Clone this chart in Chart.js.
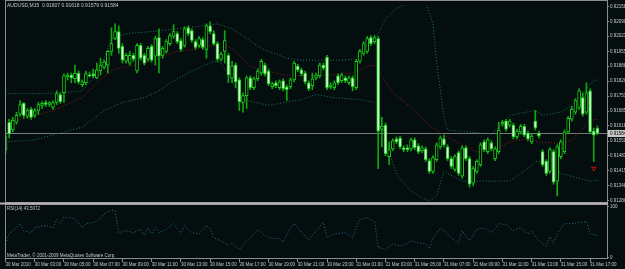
<!DOCTYPE html>
<html>
<head>
<meta charset="utf-8">
<script src="https://cdn.jsdelivr.net/npm/chart.js@4.4.0/dist/chart.umd.min.js"></script>
<style>
  html, body { margin: 0; padding: 0; background: #050e0e; }
  #wrap { width: 625px; height: 269px; }
</style>
</head>
<body>
<div id="wrap"><canvas id="chart" width="625" height="269"></canvas></div>
<script>
// AUDUSD M15 bars, one per 15 minutes from 30 Mar 01:00
const opens = [
  0.91511,0.91635,0.91600,0.91635,0.91671,0.91720,0.91662,0.91693,0.91666,0.91688,
  0.91711,0.91724,0.91715,0.91702,0.91724,0.91760,0.91768,0.91839,0.91848,0.91831,
  0.91857,0.91804,0.91813,0.91848,0.91853,0.91835,0.91866,0.91884,0.91893,0.91955,
  0.92013,0.92044,0.91977,0.91910,0.91902,0.91937,0.91866,0.91982,0.91937,0.91919,
  0.91977,0.91933,0.92017,0.91937,0.91955,0.91990,0.92022,0.92035,0.92004,0.91982,
  0.92061,0.92048,0.91999,0.91982,0.92008,0.91964,0.92070,0.92035,0.91990,0.91919,
  0.91955,0.91937,0.91835,0.91893,0.91826,0.91724,0.91755,0.91835,0.91791,0.91831,
  0.91857,0.91893,0.91866,0.91795,0.91813,0.91791,0.91822,0.91795,0.91795,0.91826,
  0.91888,0.91871,0.91857,0.91813,0.91800,0.91835,0.91844,0.91893,0.91928,0.91795,
  0.91791,0.91844,0.91822,0.91835,0.91813,0.91835,0.91791,0.91910,0.91946,0.91955,
  0.92017,0.91999,0.92013,0.91604,0.91622,0.91480,0.91515,0.91560,0.91564,0.91520,
  0.91520,0.91515,0.91555,0.91529,0.91506,0.91515,0.91462,0.91413,0.91466,0.91524,
  0.91560,0.91524,0.91471,0.91422,0.91498,0.91391,0.91520,0.91471,0.91360,0.91413,
  0.91444,0.91546,0.91502,0.91542,0.91471,0.91502,0.91626,0.91640,0.91622,0.91622,
  0.91569,0.91591,0.91617,0.91586,0.91546,0.91640,0.91586,0.91502,0.91458,0.91413,
  0.91502,0.91369,0.91480,0.91502,0.91591,0.91649,0.91680,0.91702,0.91746,0.91680,
  0.91777,0.91595,0.91607
];
const highs = [
  0.91591,0.91648,0.91657,0.91680,0.91733,0.91724,0.91697,0.91702,0.91697,0.91724,
  0.91728,0.91733,0.91728,0.91733,0.91777,0.91768,0.91853,0.91857,0.91857,0.91893,
  0.91866,0.91826,0.91866,0.91862,0.91875,0.91902,0.91924,0.91915,0.91959,0.92061,
  0.92079,0.92070,0.91990,0.91946,0.91955,0.91946,0.91990,0.91990,0.91946,0.91977,
  0.91986,0.92022,0.92057,0.91977,0.92008,0.92035,0.92075,0.92044,0.92013,0.92066,
  0.92070,0.92057,0.92008,0.92022,0.92017,0.92079,0.92088,0.92048,0.91999,0.91950,
  0.92048,0.91946,0.91910,0.91902,0.91835,0.91768,0.91844,0.91844,0.91839,0.91875,
  0.91919,0.91902,0.91875,0.91817,0.91822,0.91826,0.91831,0.91804,0.91835,0.91910,
  0.91897,0.91879,0.91866,0.91822,0.91857,0.91857,0.91902,0.91902,0.91937,0.91813,
  0.91822,0.91853,0.91857,0.91844,0.91844,0.91844,0.91919,0.91964,0.91999,0.92022,
  0.92026,0.92026,0.92022,0.91657,0.91631,0.91546,0.91560,0.91569,0.91573,0.91529,
  0.91533,0.91564,0.91564,0.91538,0.91529,0.91524,0.91471,0.91484,0.91542,0.91573,
  0.91577,0.91533,0.91480,0.91489,0.91506,0.91529,0.91529,0.91480,0.91435,0.91466,
  0.91542,0.91555,0.91564,0.91551,0.91524,0.91635,0.91644,0.91648,0.91648,0.91631,
  0.91604,0.91626,0.91626,0.91595,0.91582,0.91688,0.91595,0.91511,0.91466,0.91520,
  0.91511,0.91533,0.91555,0.91600,0.91662,0.91706,0.91742,0.91786,0.91768,0.91813,
  0.91786,0.91609,0.91618
];
const lows = [
  0.91493,0.91564,0.91591,0.91626,0.91662,0.91653,0.91653,0.91648,0.91657,0.91671,
  0.91697,0.91706,0.91706,0.91693,0.91715,0.91720,0.91724,0.91826,0.91813,0.91813,
  0.91808,0.91795,0.91804,0.91839,0.91835,0.91831,0.91848,0.91875,0.91857,0.91937,
  0.92008,0.91946,0.91902,0.91902,0.91893,0.91910,0.91857,0.91915,0.91893,0.91910,
  0.91906,0.91893,0.91857,0.91924,0.91946,0.91982,0.92013,0.91990,0.91955,0.91973,
  0.92026,0.91995,0.91964,0.91973,0.91964,0.91924,0.92035,0.91982,0.91910,0.91910,
  0.91902,0.91813,0.91813,0.91791,0.91688,0.91680,0.91697,0.91782,0.91782,0.91822,
  0.91848,0.91844,0.91800,0.91786,0.91791,0.91782,0.91777,0.91733,0.91786,0.91817,
  0.91862,0.91844,0.91808,0.91777,0.91782,0.91826,0.91835,0.91871,0.91782,0.91786,
  0.91782,0.91804,0.91813,0.91813,0.91804,0.91777,0.91782,0.91902,0.91937,0.91946,
  0.91982,0.91990,0.91426,0.91524,0.91484,0.91444,0.91506,0.91538,0.91515,0.91502,
  0.91502,0.91506,0.91511,0.91493,0.91498,0.91458,0.91404,0.91404,0.91458,0.91515,
  0.91524,0.91462,0.91426,0.91413,0.91395,0.91382,0.91462,0.91342,0.91347,0.91404,
  0.91435,0.91502,0.91493,0.91506,0.91462,0.91493,0.91617,0.91595,0.91613,0.91560,
  0.91560,0.91582,0.91569,0.91551,0.91538,0.91600,0.91564,0.91435,0.91395,0.91404,
  0.91355,0.91302,0.91471,0.91493,0.91582,0.91640,0.91671,0.91693,0.91662,0.91671,
  0.91582,0.91458,0.91579
];
const closes = [
  0.91569,0.91582,0.91644,0.91666,0.91715,0.91666,0.91688,0.91657,0.91688,0.91715,
  0.91720,0.91715,0.91724,0.91724,0.91764,0.91728,0.91844,0.91848,0.91835,0.91857,
  0.91817,0.91817,0.91853,0.91844,0.91844,0.91871,0.91893,0.91906,0.91955,0.91990,
  0.92044,0.91968,0.91915,0.91937,0.91937,0.91919,0.91982,0.91924,0.91902,0.91968,
  0.91915,0.92013,0.91933,0.91968,0.91999,0.92026,0.92044,0.91999,0.91964,0.92057,
  0.92035,0.92004,0.91973,0.92013,0.91973,0.92070,0.92044,0.91990,0.91919,0.91942,
  0.92004,0.91848,0.91888,0.91817,0.91728,0.91755,0.91835,0.91791,0.91831,0.91866,
  0.91910,0.91853,0.91808,0.91808,0.91800,0.91817,0.91786,0.91782,0.91826,0.91902,
  0.91871,0.91853,0.91817,0.91786,0.91831,0.91848,0.91893,0.91879,0.91791,0.91804,
  0.91813,0.91813,0.91848,0.91822,0.91835,0.91795,0.91910,0.91955,0.91990,0.92013,
  0.91990,0.92017,0.91595,0.91617,0.91493,0.91511,0.91551,0.91546,0.91524,0.91511,
  0.91511,0.91555,0.91520,0.91502,0.91520,0.91466,0.91413,0.91475,0.91533,0.91564,
  0.91533,0.91471,0.91435,0.91480,0.91404,0.91520,0.91471,0.91355,0.91426,0.91458,
  0.91533,0.91511,0.91555,0.91515,0.91515,0.91600,0.91635,0.91604,0.91640,0.91569,
  0.91595,0.91617,0.91577,0.91560,0.91573,0.91609,0.91573,0.91444,0.91404,0.91511,
  0.91364,0.91524,0.91546,0.91591,0.91653,0.91693,0.91733,0.91777,0.91671,0.91768,
  0.91591,0.91577,0.91584
];

// Bollinger bands (bar index / value)
const upperIdx = [0,8,16,21,24,27,29,33,40,47,54,58,62,66,70,77,81,92,95,97,99,101,102,104,107,111,115,117,118,120,121,133,136,138,145,147,152,155,161,162];
const upperVal = [0.91764,0.91764,0.91768,0.91777,0.91835,0.91924,0.92013,0.92035,0.92044,0.92057,0.92070,0.92079,0.92057,0.92013,0.91968,0.91924,0.91915,0.91915,0.91919,0.91946,0.91990,0.92022,0.92035,0.92101,0.92150,0.92175,0.92175,0.92079,0.91902,0.91657,0.91600,0.91582,0.91626,0.91666,0.91688,0.91666,0.91680,0.91711,0.91822,0.91826];
const midIdx = [0,4,13,21,25,29,34,38,42,47,50,57,59,62,64,67,72,76,86,95,99,101,103,106,111,116,120,125,129,134,138,143,146,152,155,160,162];
const midVal = [0.91644,0.91648,0.91688,0.91746,0.91813,0.91871,0.91888,0.91902,0.91924,0.91955,0.91959,0.91982,0.91990,0.91968,0.91933,0.91888,0.91866,0.91848,0.91844,0.91857,0.91888,0.91893,0.91844,0.91768,0.91702,0.91622,0.91577,0.91533,0.91502,0.91515,0.91546,0.91560,0.91546,0.91538,0.91555,0.91644,0.91648];
const lowIdx = [0,8,16,21,27,32,38,42,46,50,54,57,59,65,72,81,85,90,97,101,102,103,105,107,111,114,116,118,120,125,134,138,143,145,148,152,160,162];
const lowVal = [0.91546,0.91555,0.91591,0.91613,0.91688,0.91724,0.91746,0.91777,0.91822,0.91857,0.91888,0.91910,0.91902,0.91737,0.91711,0.91737,0.91760,0.91746,0.91737,0.91724,0.91711,0.91622,0.91502,0.91400,0.91324,0.91293,0.91280,0.91302,0.91413,0.91369,0.91369,0.91369,0.91426,0.91458,0.91458,0.91404,0.91369,0.91373];

// RSI(14)
const rsiIdx = [0,1,3,4,5,7,8,11,13,14,15,16,18,19,21,22,24,26,27,29,30,31,33,35,37,38,39,40,41,42,44,46,48,49,51,53,55,56,57,59,61,62,64,66,67,69,72,75,76,78,79,81,83,85,87,88,90,93,95,96,97,99,101,102,104,106,107,109,111,113,115,116,117,119,120,122,124,125,127,129,131,133,135,137,139,141,143,144,146,148,149,150,151,153,155,157,159,160,162];
const rsiVal = [27,47,59,67,53,49,59,63,59,75,67,80,78,76,59,67,69,76,86,94,92,49,53,49,55,43,59,47,59,49,55,67,47,63,49,47,63,57,39,33,24,29,16,33,39,55,39,37,31,59,67,50,35,53,69,39,47,49,39,59,75,78,71,20,16,27,24,24,33,29,27,18,39,57,53,39,29,53,33,55,59,49,67,65,53,59,47,51,33,22,41,29,47,67,67,69,71,47,43.5072];

// trade arrow
const markIdx = [161];
const markVal = [0.91426];

// axes
const priceTicks = [0.91280,0.91348,0.91415,0.91483,0.91550,0.91618,0.91685,0.91753,0.91820,0.91888,0.91955,0.92023,0.92090,0.92158];
const rsiTicks = [0, 100];
const timeBars = [0,8,16,24,32,40,48,56,64,72,80,88,96,104,112,120,128,136,144,152,160];
const timeLabels = ['30 Mar 2010','30 Mar 03:00','30 Mar 05:00','30 Mar 07:00','30 Mar 09:00','30 Mar 11:00','30 Mar 13:00','30 Mar 15:00','30 Mar 17:00','30 Mar 19:00','30 Mar 21:00','30 Mar 23:00','31 Mar 01:00','31 Mar 03:00','31 Mar 05:00','31 Mar 07:00','31 Mar 09:00','31 Mar 11:00','31 Mar 13:00','31 Mar 15:00','31 Mar 17:00'];

const last = closes.length - 1;
const lastClose = closes[last];
const xMin = -0.14, xMax = 164.63;

const FONT = '"Liberation Sans", Arial, sans-serif';
const TXT = '#c8c8c8';
const FRAME = '#8c8c8c';

const zip = (xs, ys) => xs.map((x, i) => ({ x: x, y: ys[i] }));

const wicks = highs.map((h, i) => ({ x: i, y: [lows[i], h] }));
const bodies = opens.map((o, i) => ({ x: i, y: [o, closes[i]] }));
const bodyFill = opens.map((o, i) => closes[i] < o ? '#d8f8d8' : '#000000');

// frame, panel separator and captions like the terminal window
const mtFrame = {
  id: 'mtFrame',
  beforeDraw(chart) {
    const { ctx, width, height } = chart;
    ctx.save();
    ctx.fillStyle = '#050e0e';
    ctx.fillRect(0, 0, width, height);
    ctx.restore();
  },
  afterDraw(chart) {
    const { ctx, chartArea: a, scales } = chart;
    const sep = scales.yRsi.top;
    ctx.save();
    ctx.strokeStyle = FRAME;
    ctx.lineWidth = 1;
    ctx.strokeRect(Math.floor(a.left) + 0.5, 0.5, Math.round(a.right - a.left), Math.round(sep) - 1);
    ctx.strokeRect(Math.floor(a.left) + 0.5, Math.round(sep) + 1.5, Math.round(a.right - a.left), Math.round(a.bottom - sep) - 2);
    ctx.fillStyle = '#b4b4b4';
    ctx.fillRect(0, Math.round(sep) - 0.5, a.right + 1, 2);

    // current price tag
    const yp = scales.y.getPixelForValue(lastClose);
    ctx.fillStyle = '#c8c8c8';
    ctx.fillRect(a.right + 1, yp - 3.5, 18, 7);
    ctx.fillStyle = '#000000';
    ctx.font = '4.5px ' + FONT;
    ctx.textBaseline = 'middle';
    ctx.fillText(lastClose.toFixed(5), a.right + 3, yp);

    ctx.fillStyle = TXT;
    ctx.font = '5px ' + FONT;
    ctx.textBaseline = 'top';
    ctx.fillText('AUDUSD,M15  ' + opens[last].toFixed(5) + ' ' + highs[last].toFixed(5) + ' ' +
      lows[last].toFixed(5) + ' ' + closes[last].toFixed(5), a.left + 2, 3);
    ctx.font = '4.5px ' + FONT;
    ctx.fillText('RSI(14) ' + rsiVal[rsiVal.length - 1].toFixed(4), a.left + 2, sep + 4);
    ctx.textBaseline = 'bottom';
    ctx.fillText('MetaTrader, \u00a9 2001-2009 MetaQuotes Software Corp.', a.left + 2, a.bottom - 0.5);
    ctx.restore();
  }
};

const dotted = (color, data, axis, order) => ({
  type: 'line', data: data, yAxisID: axis || 'y', order: order || 3,
  borderColor: color, borderWidth: 1, borderDash: [1, 2],
  pointRadius: 0, tension: 0, fill: false
});

new Chart(document.getElementById('chart'), {
  type: 'bar',
  data: {
    datasets: [
      { data: bodies, yAxisID: 'y', order: 1, grouped: false, barThickness: 3,
        backgroundColor: bodyFill, borderColor: '#1ccc1c', borderWidth: 1,
        borderSkipped: false, minBarLength: 1 },
      { data: wicks, yAxisID: 'y', order: 2, grouped: false, barThickness: 1,
        backgroundColor: '#10a810', borderWidth: 0 },
      dotted('#1c7a62', zip(upperIdx, upperVal)),
      dotted('#9a1a1a', zip(midIdx, midVal)),
      dotted('#1c7a62', zip(lowIdx, lowVal)),
      { type: 'line', yAxisID: 'y', order: 5,
        data: [{ x: xMin, y: lastClose }, { x: xMax, y: lastClose }],
        borderColor: '#7a7a7a', borderWidth: 1, pointRadius: 0 },
      dotted('#226e8e', zip(rsiIdx, rsiVal), 'yRsi', 3),
      { type: 'scatter', yAxisID: 'y', order: 0, data: zip(markIdx, markVal),
        pointStyle: 'triangle', rotation: 180, radius: 2.5,
        borderColor: '#c81414', backgroundColor: 'rgba(0,0,0,0)', borderWidth: 1 }
    ]
  },
  options: {
    responsive: false,
    animation: false,
    devicePixelRatio: 1,
    layout: { padding: { left: 1.5, top: 1, right: 0, bottom: 0 } },
    plugins: { legend: { display: false }, tooltip: { enabled: false } },
    scales: {
      x: {
        type: 'linear', min: xMin, max: xMax, offset: false,
        grid: { drawOnChartArea: false, drawTicks: true, tickLength: 3, color: FRAME, offset: false },
        border: { display: false },
        afterBuildTicks: s => { s.ticks = timeBars.map(v => ({ value: v })); },
        afterFit: s => { s.height = 10; },
        ticks: {
          autoSkip: false, maxRotation: 0, align: 'start', padding: 0,
          color: TXT, font: { family: FONT, size: 4.5 },
          callback: (v, i) => timeLabels[i]
        }
      },
      y: {
        type: 'linear', position: 'right', stack: 'win', stackWeight: 201,
        min: 0.91271, max: 0.92164,
        grid: { drawOnChartArea: false, tickLength: 2, color: FRAME },
        border: { display: false },
        afterBuildTicks: s => { s.ticks = priceTicks.map(v => ({ value: v })); },
        afterFit: s => { s.width = 18; },
        ticks: { autoSkip: false, padding: 1, color: TXT, font: { family: FONT, size: 4.5 },
          callback: v => v.toFixed(5) }
      },
      yRsi: {
        type: 'linear', position: 'right', stack: 'win', stackWeight: 57,
        min: -2.91, max: 107.77,
        grid: { drawOnChartArea: false, tickLength: 2, color: FRAME },
        border: { display: false },
        afterBuildTicks: s => { s.ticks = rsiTicks.map(v => ({ value: v })); },
        afterFit: s => { s.width = 18; },
        ticks: { autoSkip: false, padding: 1, color: TXT, font: { family: FONT, size: 4.5 },
          callback: v => String(v) }
      }
    }
  },
  plugins: [mtFrame]
});
</script>
</body>
</html>
